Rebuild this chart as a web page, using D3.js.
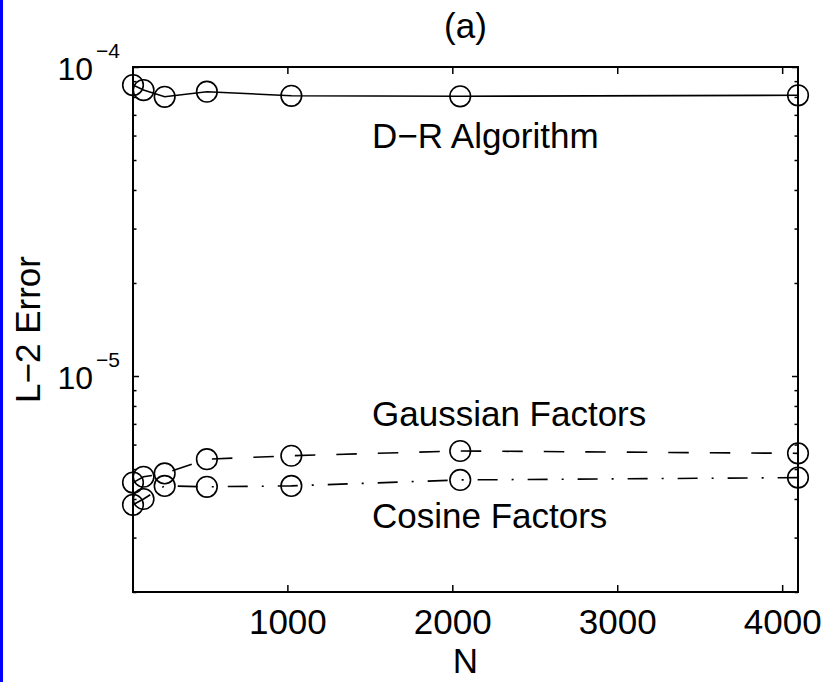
<!DOCTYPE html>
<html>
<head>
<meta charset="utf-8">
<script src="https://cdn.jsdelivr.net/npm/d3@7"></script>
<style>
  html, body { margin: 0; padding: 0; background: #fff; }
  svg { display: block; }
  text { font-family: "Liberation Sans", Arial, Helvetica, sans-serif; fill: #000; }
</style>
</head>
<body>
<svg id="chart" width="826" height="682"></svg>
<script>
// ---- data ----
const N = [64, 128, 256, 512, 1024, 2048, 4096];
const drError = [8.74e-5, 8.42e-5, 8.01e-5, 8.32e-5, 8.07e-5, 8.04e-5, 8.10e-5];
const gaussianError = [4.52e-6, 4.72e-6, 4.84e-6, 5.38e-6, 5.52e-6, 5.72e-6, 5.62e-6];
const cosineError = [3.83e-6, 4.00e-6, 4.41e-6, 4.38e-6, 4.41e-6, 4.61e-6, 4.69e-6];
const xTicks = [1000, 2000, 3000, 4000];
const yMajorTicks = [1e-5, 1e-4];
const yMinorTicks = [2e-6,3e-6,4e-6,5e-6,6e-6,7e-6,8e-6,9e-6,2e-5,3e-5,4e-5,5e-5,6e-5,7e-5,8e-5,9e-5];
const yMajorExp = ["\u22125", "\u22124"];
const seriesNames = ["D\u2212R Algorithm", "Gaussian Factors", "Cosine Factors"];

// ---- layout ----
const L = 133, R = 798, T = 67, B = 592;
const svg = d3.select("#chart");
svg.append("rect").attr("x", 0).attr("y", 0).attr("width", 826).attr("height", 682).attr("fill", "#fff");
svg.append("rect").attr("x", 0).attr("y", 0).attr("width", 3).attr("height", 682).attr("fill", "#0000ff");

const x = d3.scaleLinear().domain([64, 4096]).range([L, R]);
const y = d3.scaleLog().domain([2e-6, 1e-4]).range([B, T]);

const FS = 35;

function styleAxis(g) {
  g.select(".domain").remove();
  g.selectAll(".tick line").attr("stroke", "#000").attr("stroke-width", 1.5);
}
svg.append("g").attr("transform", `translate(0,${B})`)
  .call(d3.axisBottom(x).tickValues(xTicks).tickSize(-7).tickPadding(17).tickFormat(d3.format("d")))
  .call(styleAxis)
  .call(g => g.selectAll(".tick text").style("font-size", FS + "px"));
svg.append("g").attr("transform", `translate(0,${T})`)
  .call(d3.axisTop(x).tickValues(xTicks).tickSize(-7).tickFormat(""))
  .call(styleAxis);
svg.append("g").attr("transform", `translate(${L},0)`)
  .call(d3.axisLeft(y).tickValues(yMinorTicks).tickSize(-3.5).tickFormat(""))
  .call(styleAxis);
svg.append("g").attr("transform", `translate(${L},0)`)
  .call(d3.axisLeft(y).tickValues(yMajorTicks).tickSize(-6).tickFormat(""))
  .call(styleAxis);
svg.append("g").attr("transform", `translate(${R},0)`)
  .call(d3.axisRight(y).tickValues(yMinorTicks).tickSize(-3.5).tickFormat(""))
  .call(styleAxis);
svg.append("g").attr("transform", `translate(${R},0)`)
  .call(d3.axisRight(y).tickValues(yMajorTicks).tickSize(-6).tickFormat(""))
  .call(styleAxis);

svg.append("rect").attr("x", L).attr("y", T).attr("width", R - L).attr("height", B - T)
  .attr("fill", "none").attr("stroke", "#000").attr("stroke-width", 2);

yMajorTicks.forEach((v, i) => {
  const yy = y(v);
  svg.append("text").attr("x", 93).attr("y", yy + 13).attr("text-anchor", "end")
    .style("font-size", "32px").text("10");
  svg.append("text").attr("x", 96).attr("y", yy - 9).attr("text-anchor", "start")
    .style("font-size", "21px").text(yMajorExp[i]);
});

const series = [
  { vals: drError, dash: null },
  { vals: gaussianError, dash: "20.5,21" },
  { vals: cosineError, dash: "20,14,2,14" }
];
const line = d3.line().x(d => x(d[0])).y(d => y(d[1]));
series.forEach(s => {
  const pts = N.map((n, i) => [n, s.vals[i]]);
  svg.append("path").datum(pts).attr("d", line)
    .attr("fill", "none").attr("stroke", "#000").attr("stroke-width", 1.6)
    .attr("stroke-dasharray", s.dash);
  svg.append("g").selectAll("circle").data(pts).join("circle")
    .attr("cx", d => x(d[0])).attr("cy", d => y(d[1])).attr("r", 10.3)
    .attr("fill", "none").attr("stroke", "#000").attr("stroke-width", 1.6);
});

const ann = [[372, 148], [372, 426], [372, 528]];
seriesNames.forEach((t, i) => {
  svg.append("text").attr("x", ann[i][0]).attr("y", ann[i][1]).style("font-size", FS + "px").text(t);
});

svg.append("text").attr("x", (L + R) / 2).attr("y", 38).attr("text-anchor", "middle")
  .style("font-size", FS + "px").text("(a)");
svg.append("text").attr("x", (L + R) / 2).attr("y", 673).attr("text-anchor", "middle")
  .style("font-size", FS + "px").text("N");
svg.append("text").attr("transform", `translate(40,${(T + B) / 2}) rotate(-90)`)
  .attr("text-anchor", "middle").style("font-size", FS + "px").text("L\u22122 Error");
</script>
</body>
</html>
